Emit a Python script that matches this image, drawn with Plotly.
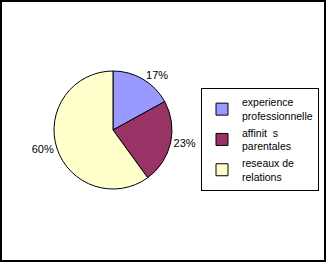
import plotly.graph_objects as go

categories = ["experience<br>professionnelle", "affinit  s<br>parentales", "reseaux de<br>relations"]
values = [17, 23, 60]
colors = ["#9999FF", "#993366", "#FFFFCC"]

W, H = 326, 262
cx, cy, r = 113, 130, 59

fig = go.Figure(go.Pie(
    labels=categories,
    values=values,
    sort=False,
    direction="clockwise",
    rotation=0,
    marker=dict(colors=colors, line=dict(color="black", width=1)),
    textinfo="percent",
    texttemplate="%{percent:.0%}",
    textposition="outside",
    textfont=dict(family="Liberation Sans, Arial", size=11, color="black"),
    domain=dict(x=[(cx - r) / W, (cx + r) / W], y=[(H - cy - r) / H, (H - cy + r) / H]),
))

fig.update_layout(
    width=W, height=H,
    margin=dict(l=0, r=0, t=0, b=0),
    paper_bgcolor="white",
    plot_bgcolor="white",
    font=dict(family="Liberation Sans, Arial", size=10, color="black"),
    legend=dict(
        x=201 / W, y=1 - 88 / H, xanchor="left", yanchor="top",
        bordercolor="black", borderwidth=1,
        font=dict(size=10.5),
        itemwidth=30,
    ),
    shapes=[dict(type="rect", xref="paper", yref="paper",
                 x0=1 / W, x1=1 - 1 / W, y0=1 / H, y1=1 - 1 / H,
                 line=dict(color="black", width=2))],
)

fig.write_html("out.html")
